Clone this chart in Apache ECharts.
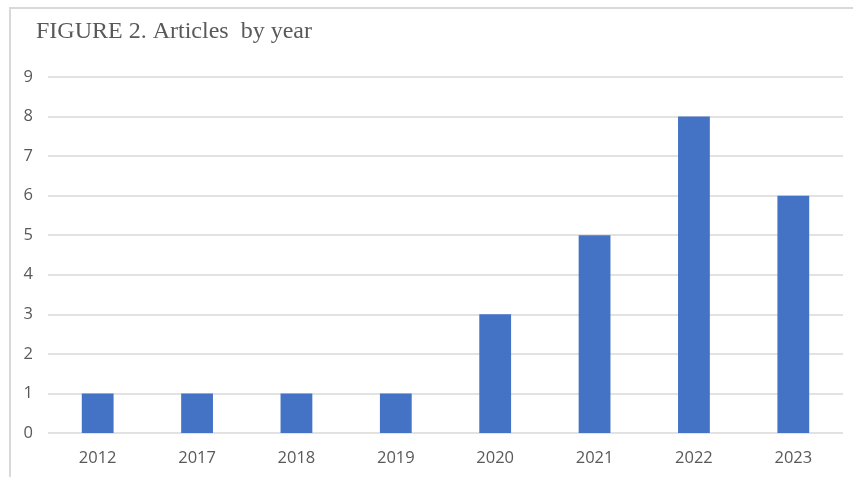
<!DOCTYPE html>
<html style="height: 100%">
<head>
    <meta charset="utf-8">
</head>
<body style="height: 100%; margin: 0; background: #fff">
<div id="frame" style="position: absolute; left: 9px; top: 7px; right: -2px; bottom: -2px; border: 2px solid #d9d9d9; box-sizing: border-box"></div>
<div id="container" style="position: absolute; left: 0; top: 0; width: 853px; height: 477px"></div>
<script type="text/javascript" src="https://cdn.jsdelivr.net/npm/echarts@6/dist/echarts.min.js"></script>
<script type="text/javascript">
    // categories (years)
    var years = ['2012', '2017', '2018', '2019', '2020', '2021', '2022', '2023'];
    // number of articles
    var articles = [1, 1, 1, 1, 3, 5, 8, 6];
    // y ticks
    var yMin = 0, yMax = 9, yStep = 1;

    var myChart = echarts.init(document.getElementById('container'));

    var option = {
        animation: false,
        title: {
            text: 'FIGURE 2. Articles  by year',
            left: 31,
            top: 15,
            textStyle: {
                fontFamily: 'Liberation Serif',
                fontWeight: 'normal',
                fontSize: 24,
                color: '#595959'
            }
        },
        grid: {
            left: 48,
            right: 10,
            top: 77,
            bottom: 44
        },
        xAxis: {
            type: 'category',
            data: years,
            axisLine: {show: false},
            axisTick: {show: false},
            axisLabel: {
                margin: 17,
                fontFamily: 'Open Sans',
                fontSize: 16.5,
                color: '#595959'
            }
        },
        yAxis: {
            type: 'value',
            min: yMin,
            max: yMax,
            interval: yStep,
            axisLine: {show: false},
            axisTick: {show: false},
            axisLabel: {
                margin: 15,
                fontFamily: 'Open Sans',
                fontSize: 16.5,
                color: '#595959'
            },
            splitLine: {
                lineStyle: {color: '#d9d9d9', width: 1.5}
            }
        },
        series: [{
            type: 'bar',
            data: articles,
            barWidth: '32%',
            itemStyle: {color: '#4472C4'}
        }]
    };
    myChart.setOption(option);
</script>
</body>
</html>
